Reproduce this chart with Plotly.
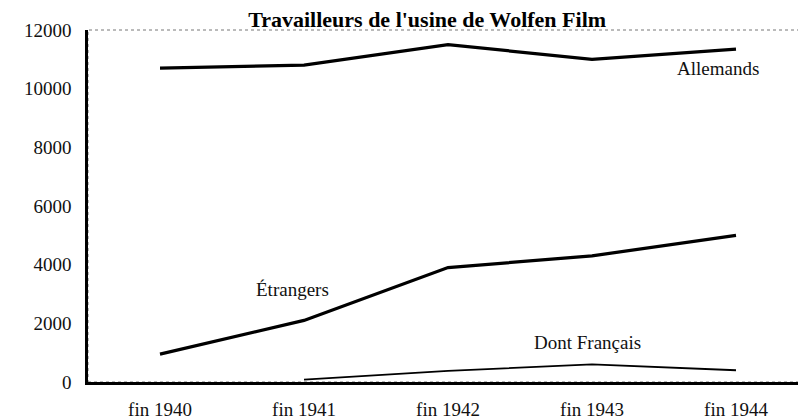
import plotly.graph_objects as go

categories = ["fin 1940", "fin 1941", "fin 1942", "fin 1943", "fin 1944"]
allemands = [10700, 10800, 11500, 11000, 11350]
etrangers = [950, 2100, 3900, 4300, 5000]
francais_x = ["fin 1941", "fin 1942", "fin 1943", "fin 1944"]
francais = [80, 380, 600, 400]
y_ticks = [0, 2000, 4000, 6000, 8000, 10000, 12000]

SERIF = "Liberation Serif"

fig = go.Figure()
fig.add_trace(go.Scatter(x=categories, y=allemands, mode="lines",
                         line=dict(color="black", width=3.2), name="Allemands"))
fig.add_trace(go.Scatter(x=categories, y=etrangers, mode="lines",
                         line=dict(color="black", width=3.2), name="Étrangers"))
fig.add_trace(go.Scatter(x=francais_x, y=francais, mode="lines",
                         line=dict(color="black", width=1.8), name="Dont Français"))

fig.add_shape(type="rect", xref="paper", yref="paper", x0=0, x1=1, y0=0, y1=1,
              line=dict(color="#777777", width=1, dash="dot"), layer="below")

annos = [("Allemands", 3.875, 10700), ("Étrangers", 0.917, 3170), ("Dont Français", 2.97, 1330)]
for txt, ax, ay in annos:
    fig.add_annotation(x=ax, y=ay, text=txt, showarrow=False,
                       font=dict(family=SERIF, size=19, color="#111111"))

fig.update_layout(
    width=806, height=418,
    margin=dict(l=80, r=6, t=22, b=40),
    paper_bgcolor="white", plot_bgcolor="white",
    showlegend=False,
    title=dict(text="<b>Travailleurs de l'usine de Wolfen Film</b>",
               x=0.52, xanchor="center", yref="container", y=1 - 11 / 418, yanchor="middle",
               font=dict(family=SERIF, size=22, color="black")),
    font=dict(family=SERIF, size=19, color="#111111"),
)
fig.update_xaxes(type="category", categoryorder="array", categoryarray=categories,
                 range=[-0.5, 4.5], showgrid=False, zeroline=False,
                 showline=True, linecolor="black", linewidth=2.5,
                 ticks="", ticklabelstandoff=8,
                 tickfont=dict(family=SERIF, size=19, color="#111111"))
fig.update_yaxes(range=[0, 12000], tickvals=y_ticks, ticktext=[str(v) for v in y_ticks],
                 showgrid=False, zeroline=False,
                 showline=True, linecolor="black", linewidth=2.5,
                 ticks="", ticklabelstandoff=10,
                 tickfont=dict(family=SERIF, size=19, color="#111111"))

fig.write_html("out.html")
